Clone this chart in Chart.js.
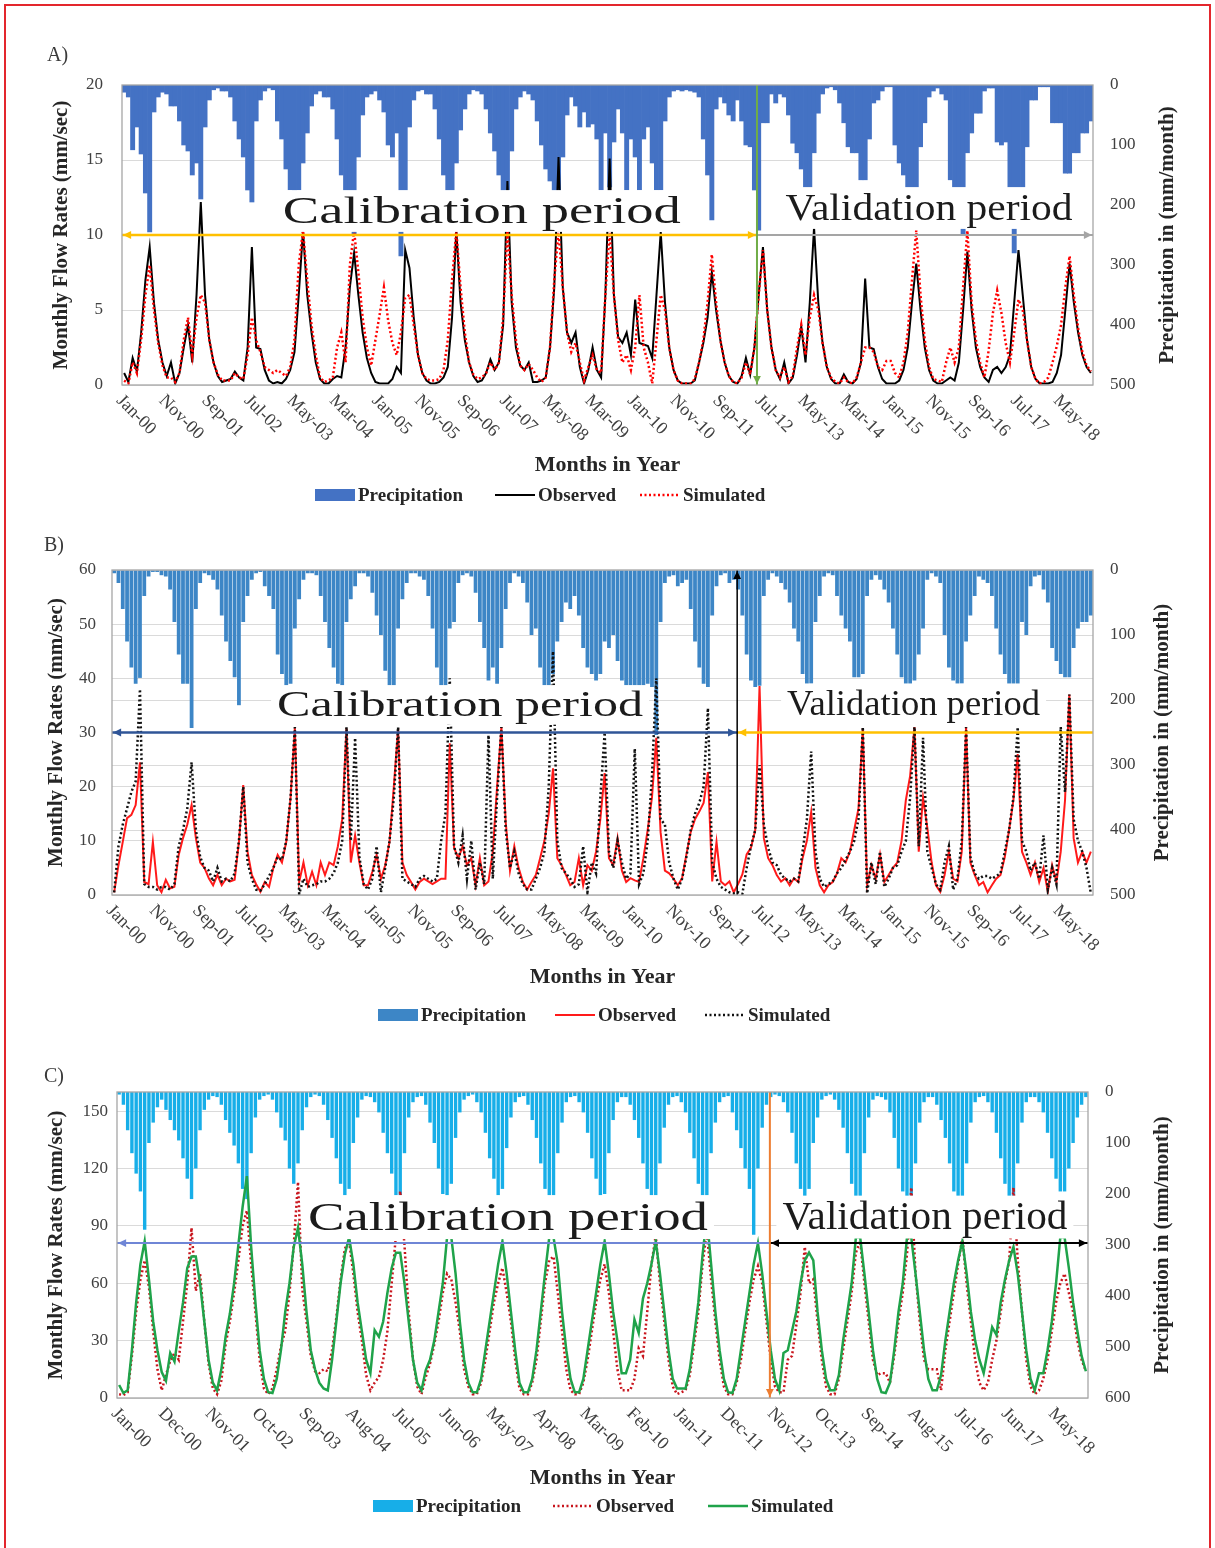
<!DOCTYPE html>
<html>
<head>
<meta charset="utf-8">
<script src="https://cdn.jsdelivr.net/npm/chart.js@4.4.1/dist/chart.umd.min.js"></script>
<style>
  html, body { margin: 0; padding: 0; background: #fff; }
  body { width: 1215px; height: 1548px; position: relative; overflow: hidden; font-family: "Liberation Serif", serif; }
  .frame { position: absolute; left: 4px; top: 4px; width: 1207px; height: 1600px; border: 2px solid #e3262d; border-bottom: none; box-sizing: border-box; }
  .panel { position: absolute; left: 0; width: 1215px; }
  .tag { position: absolute; font: 20px "Liberation Serif", serif; color: #3a3a3a; }
</style>
</head>
<body>
<div class="frame"></div>
<div class="panel" style="top:40px;height:480px"><canvas id="chartA"></canvas></div>
<div class="panel" style="top:530px;height:500px"><canvas id="chartB"></canvas></div>
<div class="panel" style="top:1055px;height:490px"><canvas id="chartC"></canvas></div>
<div class="tag" style="left:47px;top:43px">A)</div>
<div class="tag" style="left:44px;top:533px">B)</div>
<div class="tag" style="left:44px;top:1064px">C)</div>

<script>
// month categories, Jan-00 .. Dec-18
const MONTHS = ['Jan', 'Feb', 'Mar', 'Apr', 'May', 'Jun', 'Jul', 'Aug', 'Sep', 'Oct', 'Nov', 'Dec'];
const YEARS = ['00', '01', '02', '03', '04', '05', '06', '07', '08', '09', '10', '11', '12', '13', '14', '15', '16', '17', '18'];
const monthLabels = [];
YEARS.forEach(yy => MONTHS.forEach(m => monthLabels.push(m + '-' + yy)));

// ---- panel A ----
const PRECIP_A = [
  12, 20, 108, 70, 115, 180, 245, 45, 20, 12, 15, 35,
  35, 60, 100, 110, 150, 130, 190, 70, 25, 8, 5, 10,
  10, 20, 60, 90, 120, 175, 195, 60, 25, 10, 5, 8,
  60, 90, 140, 175, 185, 175, 130, 80, 35, 15, 10, 20,
  20, 40, 90, 150, 185, 190, 250, 120, 50, 20, 15, 10,
  25, 45, 100, 120, 80, 285, 185, 70, 25, 10, 8, 15,
  15, 40, 90, 150, 185, 180, 130, 75, 40, 15, 8, 10,
  15, 40, 80, 110, 150, 185, 175, 110, 40, 20, 10, 15,
  25, 60, 100, 140, 160, 185, 185, 120, 50, 20, 35, 70,
  45, 70, 65, 90, 175, 80, 170, 95, 40, 80, 175, 90,
  120, 175, 90, 70, 130, 175, 175, 60, 20, 10, 8, 10,
  8, 10, 12, 20, 90, 150, 225, 40, 20, 30, 50, 60,
  25, 60, 100, 103, 175, 242, 63, 63, 15, 30, 15, 20,
  50, 97, 113, 140, 175, 175, 113, 47, 15, 5, 3, 8,
  30, 63, 103, 113, 113, 158, 158, 90, 30, 25, 10, 3,
  3, 100, 130, 150, 175, 175, 175, 103, 63, 20, 10, 5,
  15, 25, 158, 175, 175, 250, 113, 80, 47, 47, 10, 5,
  5, 95, 100, 95, 175, 280, 175, 175, 103, 25, 25, 3,
  3, 3, 63, 63, 63, 147, 147, 113, 113, 80, 80, 60
];
const OBSERVED_A = [
  0.8, 0.2, 1.8, 0.9, 3.5, 7.0, 9.2, 5.5, 3.0, 1.5, 0.6, 1.5,
  0.1, 0.8, 2.5, 4.0, 1.5, 6.0, 12.2, 6.0, 3.0, 1.5, 0.6, 0.2,
  0.3, 0.4, 0.9, 0.5, 0.3, 2.5, 9.2, 2.5, 2.4, 1.0, 0.3, 0.1,
  0.2, 0.1, 0.4, 1.0, 2.2, 6.0, 10.3, 6.0, 3.5, 1.5, 0.4, 0.1,
  0.1, 0.4, 0.6, 0.5, 2.5, 6.5, 8.8, 6.0, 3.5, 1.8, 0.8, 0.2,
  0.1, 0.1, 0.1, 0.4, 1.2, 0.8, 9.0, 7.8, 4.5, 2.0, 0.8, 0.3,
  0.1, 0.1, 0.2, 0.5, 1.2, 4.5, 10.3, 5.5, 3.0, 1.5, 0.6, 0.2,
  0.3, 0.8, 1.7, 1.0, 1.5, 4.0, 13.6, 5.5, 2.5, 1.3, 1.0, 1.5,
  0.2, 0.2, 0.3, 0.5, 2.5, 6.5, 15.2, 6.5, 3.5, 2.8, 3.5, 1.2,
  0.1, 1.0, 2.5, 1.0, 0.5, 6.0, 15.1, 6.0, 3.2, 2.8, 3.5, 2.0,
  5.7, 2.8, 2.7, 2.6, 1.8, 6.0, 10.2, 5.5, 2.5, 1.0, 0.3, 0.1,
  0.1, 0.1, 0.3, 1.5, 2.8, 4.5, 7.5, 5.0, 3.0, 1.5, 0.6, 0.2,
  0.1, 0.6, 1.8, 0.7, 2.5, 6.0, 9.2, 5.0, 2.5, 1.0, 0.4, 1.5,
  0.1, 0.5, 2.0, 3.9, 1.5, 5.5, 10.5, 5.5, 2.8, 1.2, 0.4, 0.1,
  0.1, 0.7, 0.2, 0.1, 0.4, 1.5, 7.1, 2.5, 2.4, 1.2, 0.4, 0.1,
  0.1, 0.1, 0.3, 1.0, 2.5, 5.5, 8.1, 5.0, 2.5, 1.0, 0.3, 0.1,
  0.1, 0.3, 0.5, 0.3, 1.5, 5.0, 8.9, 5.0, 2.5, 1.2, 0.5, 0.2,
  1.0, 1.2, 0.8, 1.2, 2.0, 5.5, 9.0, 6.0, 3.0, 1.2, 0.4, 0.1,
  0.1, 0.1, 0.2, 0.8, 2.0, 5.0, 8.1, 5.5, 3.5, 2.0, 1.2, 0.8
];
const SIMULATED_A = [
  0.3, 0.1, 1.5, 0.8, 3.0, 6.0, 8.0, 5.0, 2.8, 1.3, 0.5, 0.5,
  0.2, 0.8, 3.0, 4.5, 2.0, 4.5, 6.0, 5.5, 3.0, 1.5, 0.7, 0.3,
  0.3, 0.3, 0.8, 0.5, 0.4, 2.0, 4.5, 3.0, 2.2, 1.2, 1.0, 0.8,
  1.0, 0.8, 0.6, 1.2, 3.0, 8.0, 10.3, 7.0, 4.0, 2.0, 0.5, 0.2,
  0.3, 0.5, 2.5, 3.5, 1.5, 8.0, 10.3, 7.5, 4.5, 2.5, 1.3, 3.0,
  4.7, 6.5, 4.3, 2.8, 2.0, 3.5, 5.8, 6.0, 4.0, 2.0, 0.8, 0.4,
  0.3, 0.3, 0.4, 1.0, 3.0, 7.0, 10.3, 6.5, 3.5, 1.5, 0.7, 0.4,
  0.5, 0.8, 1.5, 1.0, 1.5, 4.5, 10.3, 6.0, 3.0, 1.3, 1.0, 1.4,
  1.0, 0.5, 0.2, 0.5, 2.5, 7.0, 10.3, 6.5, 3.5, 2.2, 2.8, 1.5,
  0.3, 1.2, 2.0, 1.0, 0.8, 6.0, 10.3, 6.0, 3.0, 1.5, 2.0, 1.0,
  2.5, 6.0, 2.5, 1.5, 0.1, 3.0, 6.0, 5.0, 2.5, 1.0, 0.3, 0.1,
  0.1, 0.1, 0.4, 1.5, 3.0, 5.5, 8.7, 5.5, 3.0, 1.5, 0.6, 0.2,
  0.1, 0.5, 1.5, 0.7, 2.5, 6.0, 9.0, 5.0, 2.5, 1.0, 0.5, 1.2,
  0.2, 0.6, 2.5, 4.0, 2.0, 4.5, 6.0, 5.0, 2.8, 1.2, 0.5, 0.2,
  0.1, 0.5, 0.2, 0.1, 0.5, 1.5, 2.5, 2.5, 2.2, 1.2, 1.0, 1.6,
  1.6, 0.8, 0.5, 1.5, 3.5, 7.0, 10.3, 6.0, 3.0, 1.2, 0.4, 0.3,
  0.2, 1.5, 2.5, 1.5, 2.5, 6.5, 10.3, 5.5, 3.0, 1.5, 0.5, 2.3,
  4.8, 6.3, 4.8, 2.8, 1.5, 3.5, 5.7, 5.0, 3.0, 1.2, 0.4, 0.1,
  0.2, 0.5, 1.5, 2.6, 4.0, 6.5, 8.6, 6.0, 3.8, 2.2, 1.3, 0.9
];

// ---- panel B ----
const PRECIP_B = [
  5, 20, 60, 110, 150, 175, 166, 40, 10, 3, 3, 8,
  10, 30, 80, 130, 175, 175, 243, 60, 20, 5, 8, 15,
  30, 70, 110, 140, 165, 208, 80, 40, 15, 5, 3, 25,
  40, 60, 130, 160, 180, 175, 90, 45, 15, 5, 5, 8,
  40, 80, 120, 150, 175, 180, 80, 45, 25, 5, 5, 10,
  35, 70, 100, 155, 180, 180, 90, 45, 20, 5, 5, 10,
  15, 40, 90, 150, 180, 180, 90, 80, 20, 8, 5, 10,
  35, 80, 120, 170, 150, 175, 120, 60, 20, 5, 10, 20,
  50, 100, 90, 150, 180, 185, 160, 110, 80, 50, 60, 40,
  70, 120, 150, 160, 170, 160, 110, 120, 100, 140, 170, 180,
  180, 185, 185, 180, 175, 180, 254, 80, 20, 10, 8, 25,
  20, 15, 60, 110, 150, 175, 180, 70, 25, 8, 5, 20,
  15, 30, 70, 130, 170, 180, 178, 40, 15, 5, 10, 20,
  30, 50, 90, 110, 160, 180, 175, 80, 40, 10, 5, 8,
  40, 70, 90, 110, 165, 165, 160, 40, 15, 8, 15, 30,
  50, 90, 130, 165, 180, 180, 170, 130, 90, 15, 5, 10,
  20, 100, 150, 170, 180, 175, 110, 70, 40, 10, 15, 20,
  40, 90, 130, 160, 180, 180, 185, 80, 100, 25, 10, 8,
  30, 50, 120, 140, 160, 165, 165, 120, 90, 80, 80, 70
];
const OBSERVED_B = [
  0.5, 5.5, 9.8, 14.2, 14.8, 16.6, 24.5, 2.4, 2.0, 9.8, 1.8, 0.5,
  2.8, 1.2, 1.5, 7.4, 10.5, 13.0, 16.6, 10.5, 6.0, 5.0, 3.1, 1.8,
  3.7, 1.8, 3.0, 2.5, 2.8, 9.8, 20.3, 8.0, 3.7, 2.0, 0.6, 2.4,
  1.5, 5.0, 7.4, 6.0, 9.8, 17.9, 30.8, 2.4, 6.0, 1.8, 4.3, 1.8,
  6.0, 3.7, 6.0, 5.5, 9.0, 14.0, 30.8, 6.0, 11.0, 6.0, 1.8, 1.8,
  4.3, 7.4, 3.0, 5.5, 9.8, 20.0, 30.8, 6.0, 3.7, 2.4, 1.0, 2.4,
  3.0, 2.5, 2.0, 2.5, 3.0, 3.0, 28.0, 8.7, 6.8, 9.0, 5.5, 6.8,
  1.8, 6.8, 1.8, 2.5, 8.0, 20.0, 31.0, 13.5, 4.5, 9.0, 5.0, 2.4,
  1.0, 2.4, 3.7, 6.8, 10.0, 15.0, 23.4, 6.8, 5.5, 3.7, 1.8, 2.4,
  6.8, 1.8, 5.5, 4.5, 8.0, 14.0, 22.5, 6.8, 5.5, 10.5, 4.5, 2.4,
  3.1, 2.7, 2.4, 6.8, 12.0, 18.0, 29.0, 11.6, 4.5, 4.0, 3.0, 1.8,
  3.1, 7.5, 11.6, 14.0, 15.4, 17.0, 22.7, 2.5, 9.8, 2.5, 1.8, 2.5,
  0.5, 2.0, 3.8, 7.5, 8.7, 12.0, 38.6, 10.5, 6.8, 5.5, 3.7, 2.5,
  3.1, 1.8, 3.1, 2.4, 6.8, 10.0, 15.3, 5.0, 1.8, 0.5, 1.8, 2.4,
  4.0, 6.8, 6.0, 8.0, 12.0, 16.0, 30.8, 1.8, 5.5, 3.0, 7.5, 2.4,
  3.7, 5.0, 6.0, 10.0, 17.5, 22.0, 31.0, 8.0, 18.0, 12.4, 6.0, 1.8,
  0.6, 3.7, 8.0, 3.0, 2.5, 8.0, 31.0, 6.0, 3.7, 1.8, 2.4, 0.5,
  1.8, 3.0, 3.7, 7.0, 12.0, 17.5, 26.0, 8.0, 6.0, 3.7, 6.0, 2.4,
  5.0, 0.6, 5.5, 2.4, 8.0, 17.5, 37.0, 10.5, 6.0, 8.0, 6.0, 8.0
];
const SIMULATED_B = [
  0.5, 9.0, 13.0, 16.0, 19.0, 21.0, 38.0, 2.0, 1.5, 1.5, 1.0, 1.5,
  1.5, 1.0, 2.0, 9.0, 12.0, 16.0, 24.5, 12.0, 7.0, 5.0, 4.5, 2.5,
  5.0, 2.5, 3.0, 2.5, 4.0, 10.0, 20.0, 6.0, 3.0, 1.0, 0.8, 2.0,
  3.5, 5.0, 7.0, 6.5, 10.0, 18.0, 31.0, 0.2, 3.0, 1.5, 1.8, 2.0,
  2.5, 2.5, 3.0, 4.0, 6.0, 10.0, 31.0, 10.0, 29.0, 7.0, 2.0, 1.0,
  3.0, 9.0, 0.5, 5.0, 10.0, 18.0, 31.0, 3.0, 2.5, 2.0, 1.5, 3.0,
  3.5, 3.0, 2.5, 3.0, 10.0, 15.0, 40.0, 9.0, 6.0, 11.0, 3.0, 10.0,
  1.0, 6.0, 2.0, 29.5, 3.0, 18.0, 31.0, 12.0, 5.0, 8.0, 4.0, 2.0,
  1.0, 1.0, 3.0, 5.0, 8.0, 20.0, 45.0, 10.0, 5.0, 4.0, 3.0, 1.5,
  2.0, 9.0, 0.5, 6.0, 4.0, 18.0, 30.0, 8.0, 5.0, 10.0, 6.0, 3.0,
  4.0, 27.0, 2.0, 4.0, 10.0, 22.0, 40.0, 14.0, 13.0, 6.0, 3.0, 1.0,
  3.0, 7.0, 12.0, 15.0, 17.0, 20.0, 34.5, 6.0, 3.0, 1.5, 1.0, 0.5,
  0.3, 0.5, 0.2, 5.0, 9.0, 12.0, 24.0, 13.0, 8.7, 6.0, 5.5, 3.7,
  3.0, 2.5, 3.0, 2.5, 8.0, 14.0, 26.5, 8.0, 3.0, 1.5, 2.0, 2.5,
  4.0, 5.0, 6.5, 8.0, 10.0, 14.0, 31.0, 0.3, 6.0, 2.0, 8.0, 1.5,
  3.0, 5.0, 5.5, 8.0, 10.0, 18.0, 31.0, 9.0, 29.0, 8.0, 5.0, 2.0,
  1.0, 6.0, 9.0, 1.0, 3.0, 10.0, 31.0, 7.0, 4.0, 3.0, 3.5, 3.5,
  3.0, 3.5, 4.0, 8.0, 12.0, 18.0, 31.0, 10.0, 8.0, 4.5, 6.0, 3.0,
  11.0, 1.0, 5.0, 2.0, 31.0, 19.0, 37.0, 14.0, 10.0, 8.0, 5.0, 0.3
];

// ---- panel C ----
const PRECIP_C = [
  5, 25, 75, 120, 160, 195, 270, 100, 60, 30, 15, 35,
  55, 75, 95, 130, 170, 210, 150, 75, 35, 15, 8, 10,
  25, 55, 80, 105, 140, 190, 210, 120, 50, 15, 8, 5,
  15, 40, 70, 95, 150, 180, 140, 75, 30, 10, 5, 8,
  25, 55, 90, 130, 180, 210, 190, 100, 50, 15, 8, 10,
  20, 40, 80, 120, 160, 210, 215, 120, 50, 20, 10, 8,
  25, 60, 100, 150, 200, 210, 180, 90, 40, 15, 8, 5,
  20, 40, 80, 130, 170, 205, 190, 110, 50, 20, 10, 8,
  25, 55, 90, 140, 190, 210, 210, 120, 60, 20, 10, 8,
  20, 40, 80, 130, 170, 205, 200, 120, 55, 20, 10, 10,
  25, 55, 90, 140, 190, 210, 210, 140, 70, 25, 10, 8,
  20, 40, 80, 130, 180, 210, 220, 120, 60, 20, 10, 8,
  40, 75, 110, 150, 190, 280, 150, 70, 25, 10, 5, 8,
  20, 40, 80, 140, 190, 205, 190, 100, 50, 15, 8, 5,
  15, 35, 70, 120, 180, 205, 210, 120, 50, 15, 8, 10,
  15, 40, 90, 150, 195, 210, 215, 140, 60, 20, 10, 10,
  25, 55, 90, 140, 195, 215, 210, 140, 60, 20, 10, 8,
  20, 40, 80, 130, 180, 220, 230, 140, 60, 20, 10, 10,
  20, 40, 80, 130, 170, 195, 195, 150, 100, 50, 25, 10
];
const OBSERVED_C = [
  2, 1.5, 3, 22, 45, 62, 72, 58, 35, 15, 4, 12,
  19.5, 23.5, 20, 40, 60, 89, 56, 65, 40, 18, 5, 2,
  9, 28, 40, 55, 72, 90, 98, 70, 45, 20, 5, 2,
  5, 15, 27, 35, 55, 80, 113, 57, 40, 22, 14, 13,
  15, 14, 25, 42, 62, 78, 82, 65, 45, 30, 12, 4,
  8, 11, 20, 35, 60, 85, 108, 80, 45, 20, 6, 2,
  11, 18, 28, 40, 55, 65, 62, 50, 35, 15, 6, 2,
  2, 8, 20, 35, 50, 60, 68, 55, 40, 20, 5, 2,
  2, 8, 20, 40, 60, 72, 74, 55, 35, 15, 4, 2,
  2, 8, 20, 35, 50, 62, 70, 55, 35, 15, 4, 4,
  4, 10, 26, 22, 45, 70, 85, 60, 40, 20, 6, 2,
  3, 4, 12, 28, 45, 70, 87, 62, 40, 20, 6, 2,
  2, 8, 20, 35, 50, 62, 69, 60, 40, 20, 6, 3,
  3, 20, 22, 38, 55, 79, 60, 62, 40, 20, 6, 2,
  2, 10, 25, 40, 55, 76, 82, 60, 40, 20, 12, 13,
  13, 8, 22, 40, 55, 75, 110, 65, 40, 20, 15, 15,
  15, 4, 25, 40, 55, 70, 84, 60, 40, 20, 8, 4,
  8, 20, 30, 45, 60, 72, 110, 72, 45, 20, 6, 2,
  4, 10, 20, 35, 50, 60, 65, 55, 45, 30, 20, 14
];
const SIMULATED_C = [
  6.8, 2.6, 4, 25, 50, 70, 82, 62, 40, 25, 13.6, 9,
  23.5, 19, 35, 50, 68, 74, 74, 60, 40, 20, 8, 4,
  15, 32, 44, 60, 80, 100, 116, 79, 50, 25, 10, 3,
  2.6, 10, 25, 45, 60, 79, 89, 70, 45, 25, 15, 8,
  5, 4, 20, 40, 60, 75, 84, 70, 50, 35, 20, 13,
  35.5, 32, 40, 55, 68, 76, 76, 60, 40, 20, 8, 4,
  14.6, 20, 30, 45, 60, 84, 84, 65, 40, 20, 8, 3,
  3, 10, 25, 40, 55, 70, 82, 65, 45, 25, 8, 3,
  3, 10, 25, 45, 65, 84, 84, 70, 45, 25, 10, 3,
  3, 10, 25, 40, 55, 70, 82, 65, 45, 30, 13, 13,
  20, 41, 34, 52, 60, 70, 82, 65, 45, 25, 10, 5,
  5, 5, 15, 32, 50, 75, 95, 70, 45, 25, 10, 3,
  2.6, 10, 25, 40, 55, 70, 81, 65, 45, 25, 10, 4,
  23.5, 25, 35, 45, 60, 72, 76, 72, 45, 25, 10, 4,
  4, 12, 30, 45, 60, 84, 84, 65, 45, 25, 10, 3,
  2.6, 8, 25, 45, 60, 84, 84, 65, 45, 25, 10, 4,
  4, 12, 30, 45, 60, 72, 82, 65, 45, 30, 20, 13,
  25, 37, 33, 50, 62, 72, 79, 65, 45, 25, 10, 4,
  13, 13, 25, 40, 60, 84, 84, 68, 50, 35, 22, 14
];

Chart.defaults.font.family = '"Liberation Serif", "Times New Roman", serif';
Chart.defaults.color = '#404040';

function arrowHead(ctx, x, y, ang, size) {
  ctx.beginPath();
  ctx.moveTo(x, y);
  ctx.lineTo(x - size * Math.cos(ang - 0.45), y - size * Math.sin(ang - 0.45));
  ctx.lineTo(x - size * Math.cos(ang + 0.45), y - size * Math.sin(ang + 0.45));
  ctx.closePath();
  ctx.fill();
}

// extra drawing: period labels, arrows, rotated month labels, right title, legend
function makeDecor(cfg) {
  return {
    id: 'decor',
    afterDatasetsDraw(chart) {
      const { ctx, chartArea: a, scales } = chart;
      const xs = scales.x, ys = scales.y;
      ctx.save();
      cfg.periods.forEach(p => {
        const cx = xs.getPixelForValue(p.at), cy = ys.getPixelForValue(p.value);
        ctx.font = p.size + 'px "Liberation Serif"';
        const w = ctx.measureText(p.text).width;
        ctx.fillStyle = '#fff';
        ctx.fillRect(cx - p.width / 2 - 6, cy - p.size * 0.55, p.width + 12, p.size * 1.1);
        ctx.save();
        ctx.translate(cx, cy);
        ctx.scale(p.width / w, 1);
        ctx.fillStyle = '#1b1b1b';
        ctx.textAlign = 'center';
        ctx.textBaseline = 'middle';
        ctx.fillText(p.text, 0, 2);
        ctx.restore();
      });
      cfg.arrows.forEach(ar => {
        const x0 = xs.getPixelForValue(ar.from), x1 = xs.getPixelForValue(ar.to);
        const y = ys.getPixelForValue(ar.value);
        ctx.strokeStyle = ar.color;
        ctx.fillStyle = ar.color;
        ctx.lineWidth = ar.width;
        ctx.beginPath();
        ctx.moveTo(x0, y);
        ctx.lineTo(x1, y);
        ctx.stroke();
        if (ar.heads.includes('start')) arrowHead(ctx, x0 + 1, y, Math.PI, 9);
        if (ar.heads.includes('end')) arrowHead(ctx, x1 - 1, y, 0, 9);
      });
      const v = cfg.vline;
      const vx = xs.getPixelForValue(v.at);
      ctx.strokeStyle = v.color;
      ctx.fillStyle = v.color;
      ctx.lineWidth = v.width;
      ctx.beginPath();
      ctx.moveTo(vx, a.top);
      ctx.lineTo(vx, a.bottom);
      ctx.stroke();
      if (v.head === 'top') arrowHead(ctx, vx, a.top + 1, -Math.PI / 2, 9);
      else arrowHead(ctx, vx, a.bottom - 1, Math.PI / 2, 9);
      ctx.restore();
    },
    afterDraw(chart) {
      const { ctx, chartArea: a, scales } = chart;
      const xs = scales.x;
      ctx.save();
      ctx.strokeStyle = '#a6a6a6';
      ctx.lineWidth = 1.3;
      ctx.strokeRect(a.left, a.top, a.right - a.left, a.bottom - a.top);

      // month labels, turned clockwise
      ctx.font = '18px "Liberation Serif"';
      ctx.fillStyle = '#404040';
      ctx.textAlign = 'left';
      ctx.textBaseline = 'middle';
      for (let i = 0; i < monthLabels.length; i += cfg.tickEvery) {
        const tx = xs.getPixelForValue(i);
        ctx.save();
        ctx.translate(tx - 5, a.bottom + 13);
        ctx.rotate(Math.PI / 4);
        ctx.fillText(monthLabels[i], 0, 0);
        ctx.restore();
      }

      // right axis title, reading upwards
      ctx.save();
      ctx.translate(cfg.rightTitleX, (a.top + a.bottom) / 2);
      ctx.rotate(-Math.PI / 2);
      ctx.font = 'bold 21px "Liberation Serif"';
      ctx.fillStyle = '#262626';
      ctx.textAlign = 'center';
      ctx.textBaseline = 'middle';
      ctx.fillText('Precipitation in (mm/month)', 0, 0);
      ctx.restore();

      // legend
      ctx.font = 'bold 19px "Liberation Serif"';
      ctx.textBaseline = 'middle';
      cfg.legend.forEach(it => {
        const ds = chart.data.datasets.find(d => d.label === it.label);
        const y = cfg.legendY;
        if (ds.type === 'bar') {
          ctx.fillStyle = ds.backgroundColor;
          ctx.fillRect(it.x, y - 6, 40, 12);
        } else {
          ctx.strokeStyle = ds.borderColor;
          ctx.lineWidth = ds.borderWidth;
          ctx.setLineDash(ds.borderDash);
          ctx.beginPath();
          ctx.moveTo(it.x, y);
          ctx.lineTo(it.x + 40, y);
          ctx.stroke();
          ctx.setLineDash([]);
        }
        ctx.fillStyle = '#262626';
        ctx.fillText(ds.label, it.x + 43, y + 1);
      });
      ctx.restore();
    }
  };
}

function buildChart(cfg) {
  const ctx = document.getElementById(cfg.canvas).getContext('2d');
  return new Chart(ctx, {
    type: 'bar',
    data: {
      labels: monthLabels,
      datasets: [
        {
          type: 'line', label: 'Simulated', data: cfg.simulated, yAxisID: 'y', order: 1,
          borderColor: cfg.simStyle.color, borderWidth: cfg.simStyle.width, borderDash: cfg.simStyle.dash,
          pointRadius: 0, tension: 0, fill: false
        },
        {
          type: 'line', label: 'Observed', data: cfg.observed, yAxisID: 'y', order: 2,
          borderColor: cfg.obsStyle.color, borderWidth: cfg.obsStyle.width, borderDash: cfg.obsStyle.dash,
          pointRadius: 0, tension: 0, fill: false
        },
        {
          type: 'bar', label: 'Precipitation', data: cfg.precip, yAxisID: 'y2', order: 3,
          backgroundColor: cfg.barColor, barPercentage: cfg.barPct, categoryPercentage: 1, borderWidth: 0
        }
      ]
    },
    options: {
      responsive: true,
      maintainAspectRatio: false,
      animation: false,
      events: [],
      layout: { padding: cfg.pad },
      plugins: { legend: { display: false }, tooltip: { enabled: false } },
      scales: {
        x: {
          offset: true,
          grid: { display: false },
          border: { display: false },
          ticks: { display: false },
          title: {
            display: true, text: 'Months in Year', color: '#262626',
            font: { size: 22, weight: 'bold' }, padding: { top: 0, bottom: 0 }
          },
          afterFit: s => { s.height = cfg.xH; }
        },
        y: {
          position: 'left', min: 0, max: cfg.yMax,
          grid: { color: '#dadada', drawTicks: false },
          border: { display: false },
          ticks: { stepSize: cfg.yStep, includeBounds: false, padding: cfg.tickPad, font: { size: 17 }, color: '#404040' },
          title: {
            display: true, text: 'Monthly Flow Rates (mm/sec)', color: '#262626',
            font: { size: 21, weight: 'bold' }, padding: { top: 0, bottom: 0 }
          },
          afterFit: s => { s.width = cfg.leftW; }
        },
        y2: {
          position: 'right', reverse: true, min: 0, max: cfg.y2Max,
          grid: { display: cfg.rightGrid, drawOnChartArea: cfg.rightGrid, color: '#dadada', drawTicks: false },
          border: { display: false },
          ticks: { stepSize: 100, padding: 17, font: { size: 17 }, color: '#404040' },
          afterFit: s => { s.width = cfg.rightW; }
        }
      }
    },
    plugins: [makeDecor(cfg)]
  });
}

const SPLIT_A = 148.6, SPLIT_B = 144.8, SPLIT_C = 152.8;

buildChart({
  canvas: 'chartA', precip: PRECIP_A, observed: OBSERVED_A, simulated: SIMULATED_A,
  yMax: 20, yStep: 5, y2Max: 500,
  barColor: '#4472c4', barPct: 1.0,
  obsStyle: { color: '#000000', width: 2, dash: [] },
  simStyle: { color: '#ff0000', width: 2.5, dash: [2, 2.5] },
  pad: { left: 49, right: 22, top: 45, bottom: 41 },
  leftW: 73, rightW: 100, xH: 94, tickPad: 19, rightGrid: false,
  tickEvery: 10, rightTitleX: 1168, legendY: 455,
  periods: [
    { text: 'Calibration period', at: 84, value: 11.6, size: 38, width: 398 },
    { text: 'Validation period', at: 189, value: 11.8, size: 38, width: 287 }
  ],
  arrows: [
    { from: -0.5, to: SPLIT_A, value: 10, color: '#ffc000', width: 2.5, heads: ['start', 'end'] },
    { from: SPLIT_A, to: 227.5, value: 10, color: '#a5a5a5', width: 2, heads: ['end'] }
  ],
  vline: { at: SPLIT_A, color: '#70ad47', width: 2, head: 'bottom' },
  legend: [{ label: 'Precipitation', x: 315 }, { label: 'Observed', x: 495 }, { label: 'Simulated', x: 640 }]
});

buildChart({
  canvas: 'chartB', precip: PRECIP_B, observed: OBSERVED_B, simulated: SIMULATED_B,
  yMax: 60, yStep: 10, y2Max: 500,
  barColor: '#3d86c6', barPct: 0.88,
  obsStyle: { color: '#ff1a1a', width: 2, dash: [] },
  simStyle: { color: '#111111', width: 2.5, dash: [2, 2.5] },
  pad: { left: 44, right: 22, top: 40, bottom: 39 },
  leftW: 68, rightW: 100, xH: 96, tickPad: 16, rightGrid: true,
  tickEvery: 10, rightTitleX: 1163, legendY: 485,
  periods: [
    { text: 'Calibration period', at: 80.4, value: 35.1, size: 36, width: 366 },
    { text: 'Validation period', at: 185.8, value: 35.4, size: 36, width: 253 }
  ],
  arrows: [
    { from: -0.5, to: SPLIT_B, value: 30, color: '#2f5597', width: 2.5, heads: ['start', 'end'] },
    { from: SPLIT_B, to: 227.5, value: 30, color: '#ffc000', width: 2.5, heads: ['start'] }
  ],
  vline: { at: SPLIT_B, color: '#000000', width: 1.5, head: 'top' },
  legend: [{ label: 'Precipitation', x: 378 }, { label: 'Observed', x: 555 }, { label: 'Simulated', x: 705 }]
});

buildChart({
  canvas: 'chartC', precip: PRECIP_C, observed: OBSERVED_C, simulated: SIMULATED_C,
  yMax: 160, yStep: 30, y2Max: 600,
  barColor: '#17aee8', barPct: 0.8,
  obsStyle: { color: '#c8141c', width: 2.5, dash: [2, 2.5] },
  simStyle: { color: '#1fa34a', width: 2.5, dash: [] },
  pad: { left: 44, right: 27, top: 37, bottom: 53 },
  leftW: 73, rightW: 100, xH: 94, tickPad: 9, rightGrid: false,
  tickEvery: 11, rightTitleX: 1163, legendY: 451,
  periods: [
    { text: 'Calibration period', at: 91.3, value: 94.6, size: 40, width: 400 },
    { text: 'Validation period', at: 189.2, value: 94.6, size: 39, width: 285 }
  ],
  arrows: [
    { from: -0.5, to: SPLIT_C, value: 81, color: '#6f86d6', width: 2, heads: ['start'] },
    { from: SPLIT_C, to: 227.5, value: 81, color: '#000000', width: 2, heads: ['start', 'end'] }
  ],
  vline: { at: SPLIT_C, color: '#ed7d31', width: 2, head: 'bottom' },
  legend: [{ label: 'Precipitation', x: 373 }, { label: 'Observed', x: 553 }, { label: 'Simulated', x: 708 }]
});
</script>
</body>
</html>
